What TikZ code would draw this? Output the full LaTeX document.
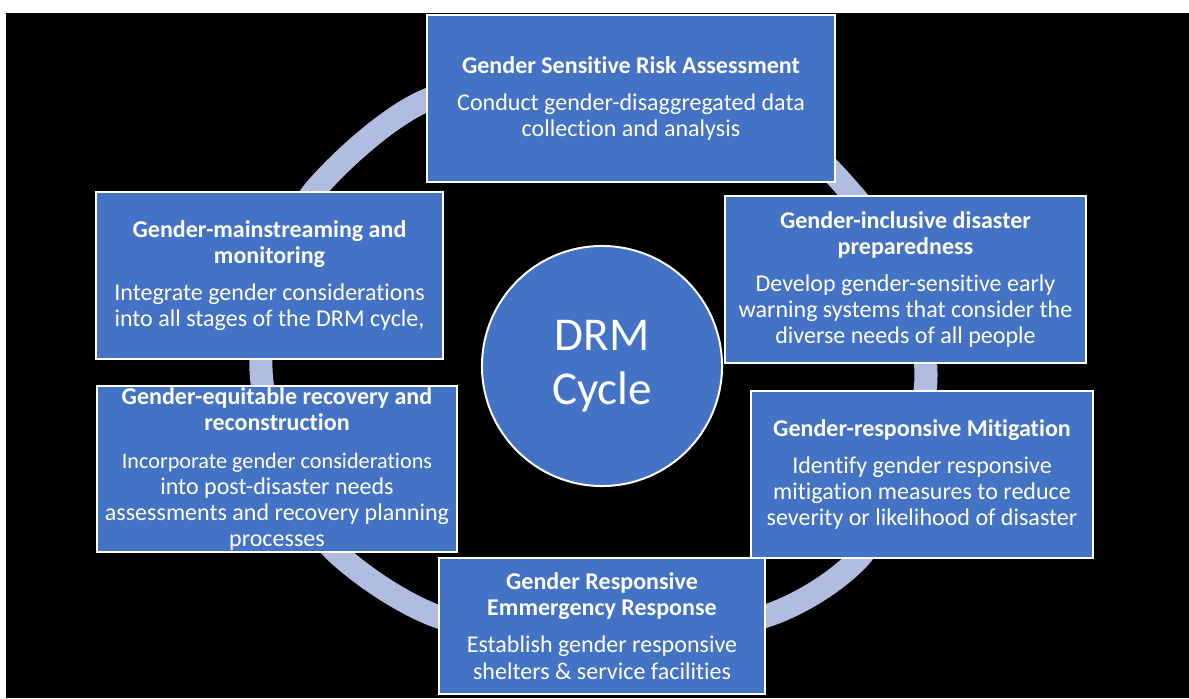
\documentclass[tikz,border=0pt]{standalone}
\usepackage{fontspec}
\setmainfont{Carlito}[Ligatures=NoCommon]

\definecolor{stageblue}{RGB}{68,114,196}
\definecolor{ringblue}{RGB}{176,189,224}

\begin{document}
\begin{tikzpicture}[
    x=0.025cm,
    y=-0.025cm,
    stage/.style={rectangle, fill=stageblue, draw=white, line width=1.4pt,
                  inner sep=0pt, text=white, align=center,
                  font=\fontsize{17.1}{18.5}\selectfont},
    hub/.style={circle, fill=stageblue, draw=white, line width=1.4pt,
                minimum size=6cm, inner sep=0pt, text=white, align=center,
                font=\fontsize{33.5}{38.4}\selectfont},
    ring/.style={draw=ringblue, line width=16.4pt},
]

    % backdrop
    \fill[white] (0,0) rectangle (1189,698);
    \fill[black] (6,13) rectangle (1189,698);

    % the cycle ring behind the stages
    \draw[ring] plot[smooth cycle] coordinates {
        (261,370) (283,470) (337,553) (439,617) (600,645) (766,616)
        (857,560) (907,470) (926,375) (907,280) (853,195) (760,112)
        (600,72) (427,100) (315,190) (275,280)};

    \node[hub] (drm) at (602,366) {DRM\\Cycle};

    \node[stage, minimum width=10.2cm, minimum height=4.175cm] (risk) at (631,98.5)
        {\textbf{Gender Sensitive Risk Assessment}\\[8pt]
         Conduct gender-disaggregated data\\collection and analysis};
    \node[stage, minimum width=9.025cm, minimum height=4.175cm] (prep) at (905.5,279.5)
        {\textbf{Gender-inclusive disaster}\\\textbf{preparedness}\\[8pt]
         Develop gender-sensitive early\\warning systems that consider the\\diverse needs of all people};
    \node[stage, minimum width=8.55cm, minimum height=4.175cm] (mitig) at (922,474.5)
        {\textbf{Gender-responsive Mitigation}\\[8pt]
         Identify gender responsive\\mitigation measures to reduce\\severity or likelihood of disaster};
    \node[stage, minimum width=8.15cm, minimum height=3.4cm] (resp) at (602,626)
        {\textbf{Gender Responsive}\\\textbf{Emmergency Response}\\[8pt]
         Establish gender responsive\\shelters \& service facilities};
    % body text of this one is set a little smaller
    \node[stage, minimum width=9cm, minimum height=4.15cm] (recov) at (277,469)
        {\textbf{Gender-equitable recovery and}\\\textbf{reconstruction}\\[8pt]
         \fontsize{15.8}{18.5}\selectfont
         Incorporate gender considerations\\into post-disaster needs\\assessments and recovery planning\\processes};
    \node[stage, minimum width=8.675cm, minimum height=4.175cm] (mainstr) at (269.5,275.5)
        {\textbf{Gender-mainstreaming and}\\\textbf{monitoring}\\[8pt]
         Integrate gender considerations\\into all stages of the DRM cycle,};

\end{tikzpicture}
\end{document}
